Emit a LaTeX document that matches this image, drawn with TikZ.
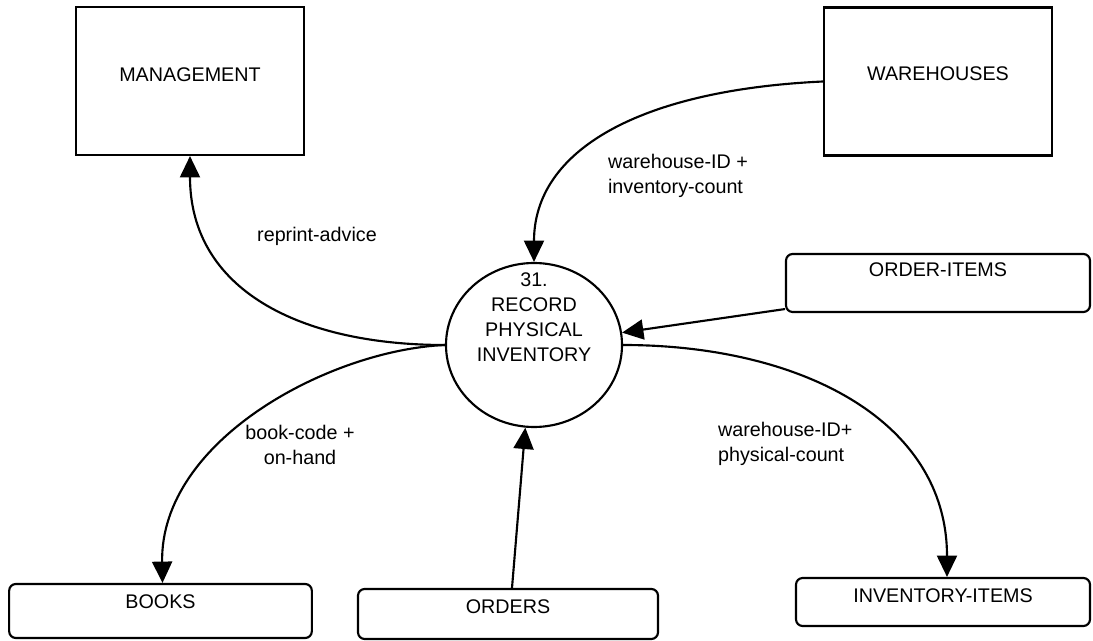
\documentclass[tikz,border=0pt]{standalone}
\usepackage{fontspec}
\setmainfont{Liberation Sans}
\usetikzlibrary{arrows.meta,shapes.geometric}
\begin{document}
\begin{tikzpicture}[x=0.75pt,y=-0.75pt,
  font=\fontsize{14.8}{18.75}\selectfont, line width=1.6pt,
  ext/.style={draw, rectangle, inner sep=0pt, minimum width=171pt, minimum height=111pt, text height=10.5pt},
  store/.style={draw, rectangle, rounded corners=5pt, inner sep=0pt, text height=10.5pt},
  flow/.style={-{Triangle[length=16pt,width=15pt]}},
  lbl/.style={inner sep=0pt}]
\useasboundingbox (0,0) rectangle (1093,641);
% external entities
\node[ext, text depth=9pt] (mgmt) at (190,81) {MANAGEMENT};
\node[ext, text depth=11.25pt] (wh) at (938,81.5) {WAREHOUSES};
% process
\node[draw, ellipse, minimum width=132pt, minimum height=123pt, inner sep=0pt] (proc) at (534,345) {};
\node[lbl, align=center] (proctext) at (534,317) {31.\\RECORD\\PHYSICAL\\INVENTORY};
% data stores
\node[store, minimum width=227pt, minimum height=40.5pt, text depth=13.5pt] (books) at (160.5,611) {BOOKS};
\node[store, minimum width=225pt, minimum height=37.5pt, text depth=10.5pt] (orders) at (508,614) {ORDERS};
\node[store, minimum width=228pt, minimum height=43.5pt, text depth=19.5pt] (oi) at (938,283) {ORDER-ITEMS};
\node[store, minimum width=220.5pt, minimum height=36pt, text depth=10.5pt] (inv) at (943,602) {INVENTORY-ITEMS};
% flows
\draw[flow] (proc.west) .. controls (300,345) and (190,290) .. (mgmt.south);
\draw[flow] (proc.west) .. controls (330,350) and (160,440) .. ([xshift=1.5pt]books.north);
\draw[flow] (wh.west) .. controls (640,90) and (534,150) .. (proc.north);
\draw[flow] ([yshift=3pt]oi.south west) -- (proc.8);
\draw[flow] ([xshift=3pt]orders.north) -- (proc.264);
\draw[flow] (proc.east) .. controls (800,345) and (947,420) .. ([xshift=3pt]inv.north);
% labels
\node[lbl] (l1) at (317,236) {reprint-advice};
\node[lbl, align=left, anchor=west] (l2) at (607,176) {warehouse-ID +\\inventory-count};
\node[lbl, align=center] (l3) at (300,445) {book-code +\\on-hand};
\node[lbl, align=left, anchor=west] (l4) at (717,444) {warehouse-ID+\\physical-count};
\end{tikzpicture}
\end{document}
